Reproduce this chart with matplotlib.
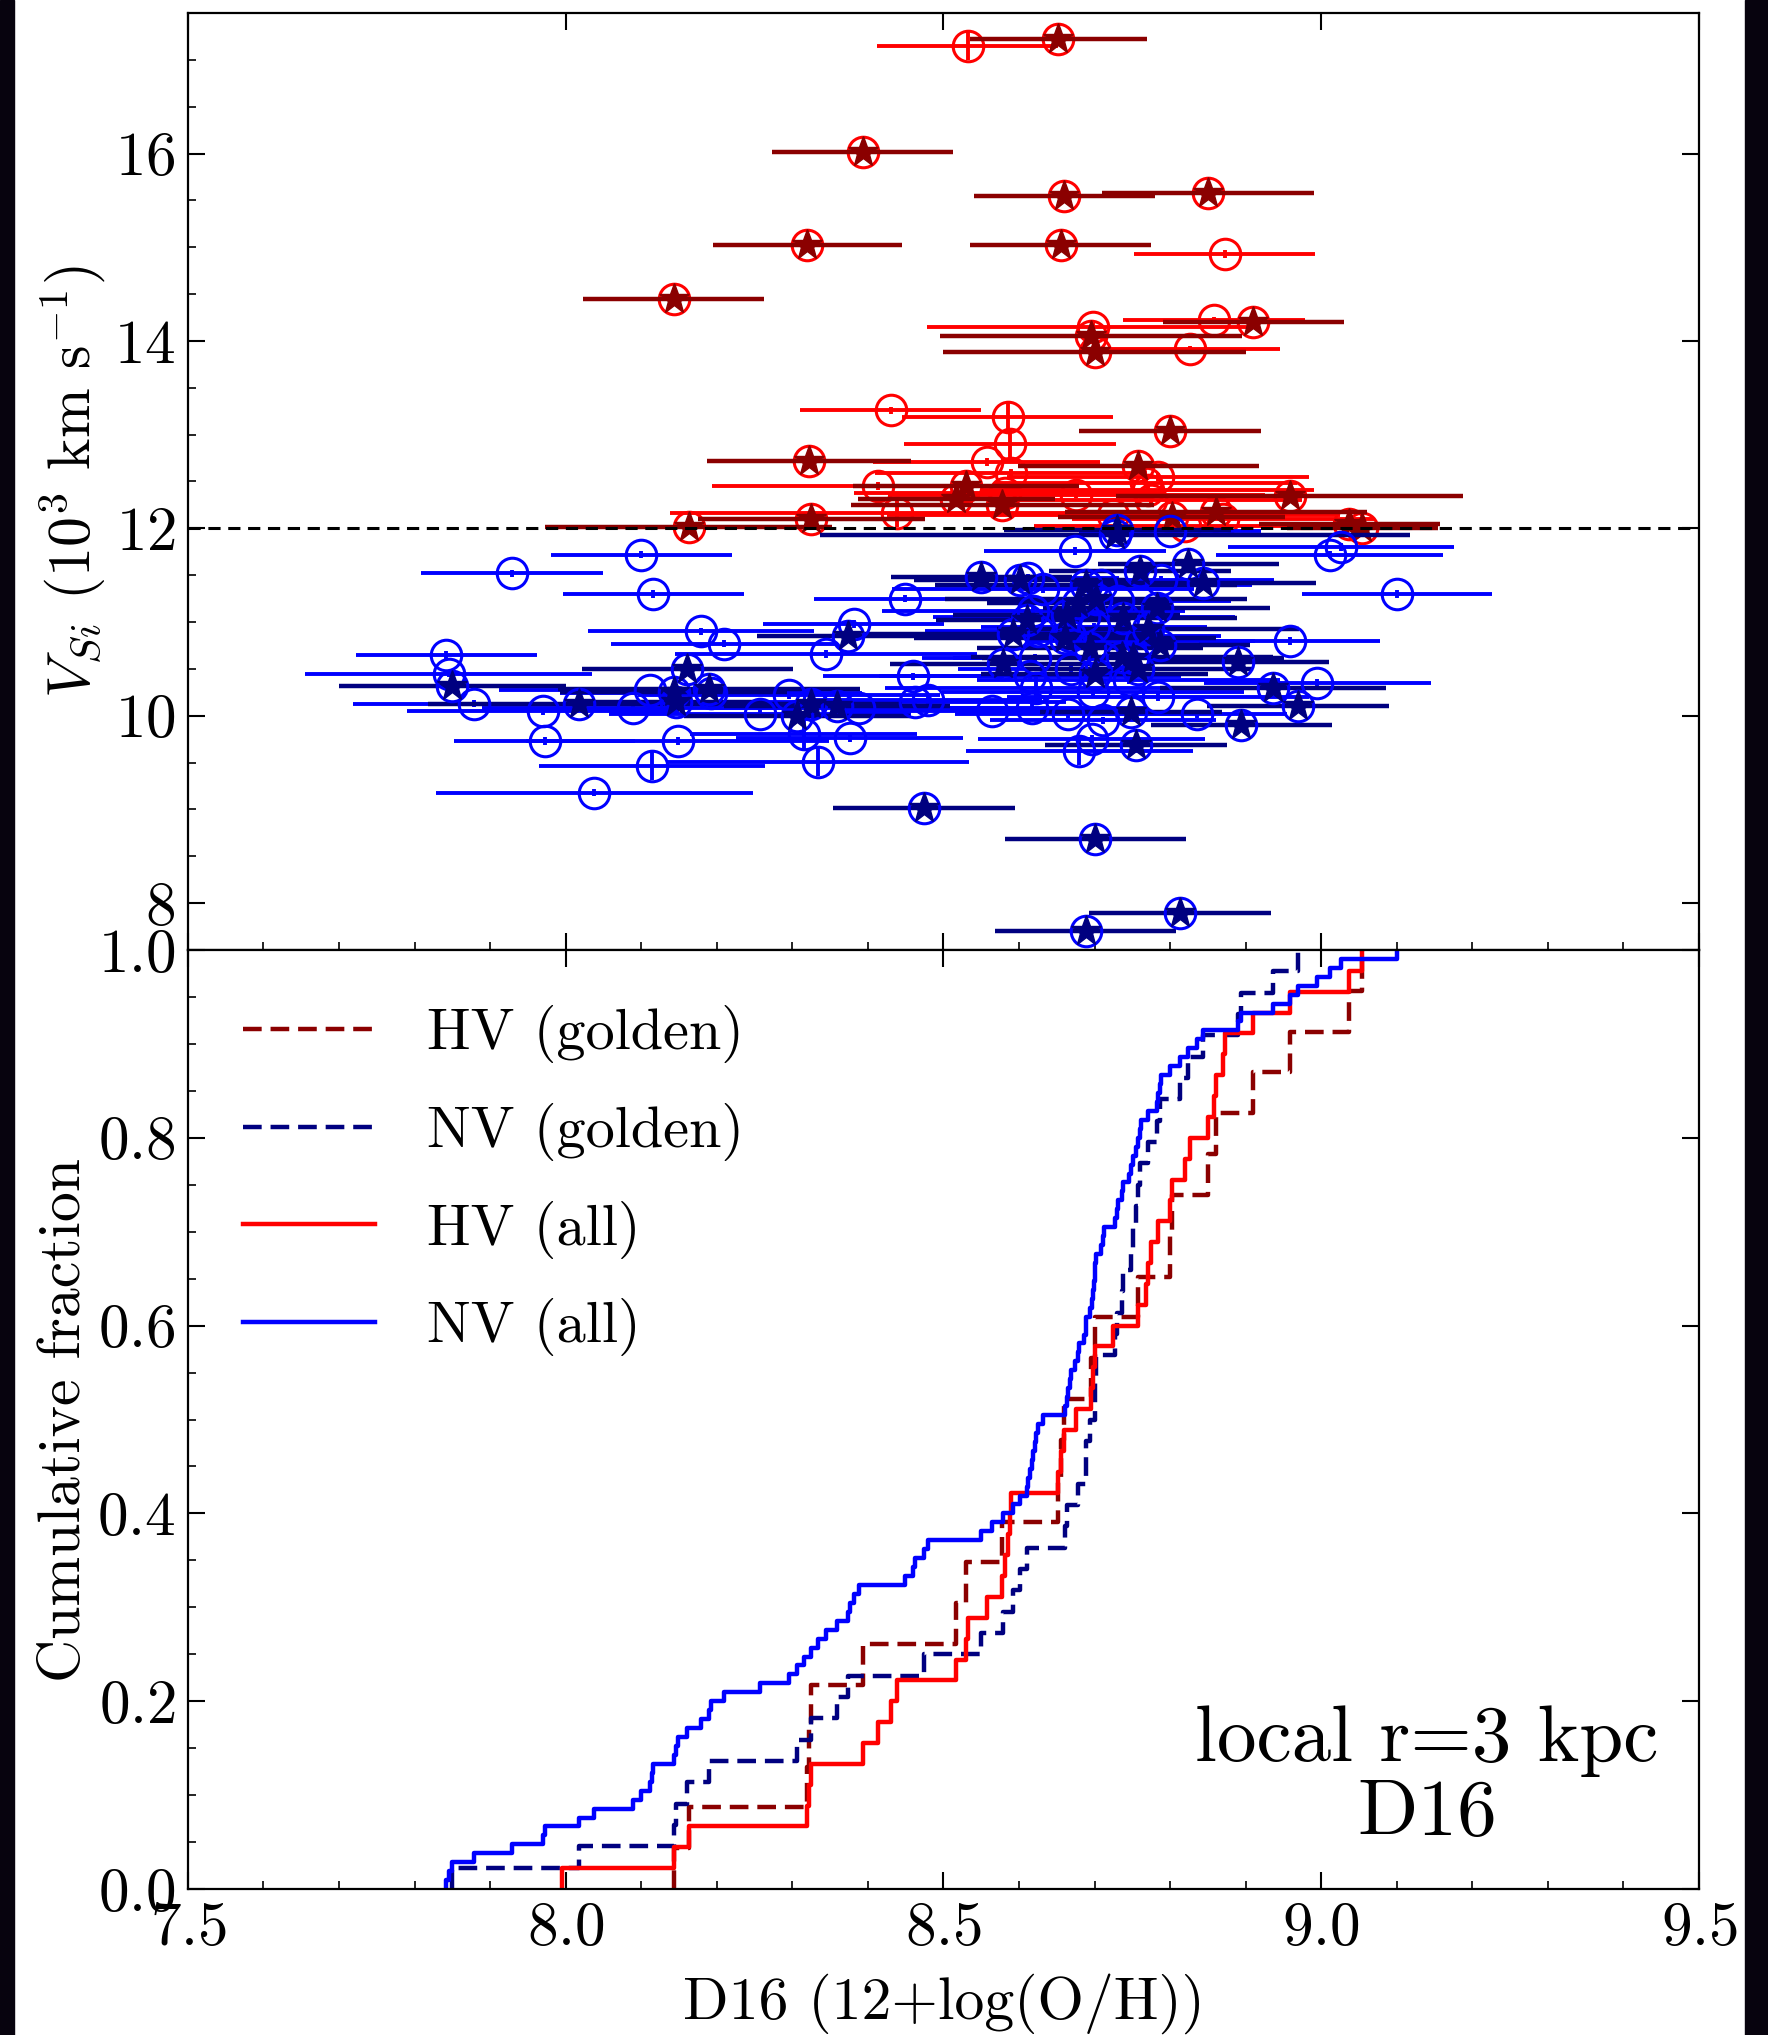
import numpy as np
import matplotlib
matplotlib.use('Agg')
import matplotlib.pyplot as plt
from matplotlib.ticker import MultipleLocator
from matplotlib.patches import Rectangle

plt.rcParams['font.family'] = 'serif'
plt.rcParams['font.serif'] = ['cmr10']
plt.rcParams['mathtext.fontset'] = 'cm'
plt.rcParams['axes.formatter.use_mathtext'] = True
plt.rcParams['axes.unicode_minus'] = False

# ---- data ----
# high-velocity, golden sample (stars)
hv_gold_x = [8.143, 8.163, 8.32, 8.322, 8.325, 8.393, 8.517, 8.53, 8.578, 8.652,
             8.655, 8.66, 8.695, 8.70, 8.758, 8.80, 8.802, 8.85, 8.861, 8.91,
             8.958, 9.037, 9.054]
hv_gold_v = [14.45, 12.01, 15.02, 12.72, 12.10, 16.02, 12.31, 12.45, 12.25, 17.22,
             15.02, 15.55, 14.05, 13.88, 12.67, 13.04, 12.12, 15.58, 12.17, 14.20,
             12.35, 12.05, 12.00]
hv_gold_xerr = [0.12, 0.19, 0.125, 0.135, 0.15, 0.12, 0.13, 0.15, 0.2, 0.117,
                0.12, 0.12, 0.2, 0.2, 0.16, 0.12, 0.15, 0.14, 0.2, 0.12,
                0.23, 0.12, 0.1]

# high-velocity, rest of the full sample (circles)
hv_rest_x = [7.995, 8.413, 8.43, 8.438, 8.532, 8.557, 8.582, 8.585, 8.588, 8.59,
             8.676, 8.698, 8.725, 8.768, 8.771, 8.774, 8.784, 8.82, 8.826, 8.858,
             8.87, 8.872]
hv_rest_v = [18.2, 12.45, 13.26, 12.16, 17.15, 12.71, 12.38, 13.19, 12.90, 12.59,
             12.36, 14.15, 12.14, 12.48, 12.41, 12.30, 12.55, 12.02, 13.91, 14.22,
             12.10, 14.93]
hv_rest_xerr = [0.12, 0.22, 0.12, 0.3, 0.12, 0.15, 0.2, 0.14, 0.14, 0.18,
                0.25, 0.22, 0.3, 0.2, 0.22, 0.2, 0.2, 0.2, 0.12, 0.12,
                0.2, 0.12]
hv_rest_verr = [0.05, 0.04, 0.04, 0.15, 0.15, 0.04, 0.04, 0.16, 0.15, 0.04,
                0.04, 0.04, 0.04, 0.04, 0.05, 0.04, 0.04, 0.04, 0.04, 0.04,
                0.04, 0.04]

# normal-velocity, golden sample (stars)
nv_gold_x = [7.85, 8.018, 8.143, 8.146, 8.161, 8.19, 8.306, 8.325, 8.359, 8.373,
             8.474, 8.55, 8.579, 8.592, 8.601, 8.61, 8.661, 8.663, 8.678, 8.688,
             8.689, 8.694, 8.70, 8.701, 8.702, 8.727, 8.73, 8.736, 8.738, 8.748,
             8.751, 8.755, 8.758, 8.76, 8.771, 8.782, 8.786, 8.813, 8.824, 8.843,
             8.89, 8.894, 8.936, 8.969]
nv_gold_v = [10.32, 10.12, 10.25, 10.15, 10.50, 10.28, 10.00, 10.12, 10.10, 10.85,
             9.02, 11.48, 10.55, 10.87, 11.45, 11.02, 10.83, 11.08, 11.20, 7.70,
             11.40, 10.72, 10.45, 8.68, 11.25, 11.93, 11.98, 10.63, 11.04, 10.04,
             10.62, 9.69, 10.50, 11.54, 10.93, 11.15, 10.75, 7.89, 11.62, 11.42,
             10.57, 9.90, 10.30, 10.10]
nv_gold_xerr = [0.15, 0.2, 0.15, 0.12, 0.14, 0.2, 0.15, 0.12, 0.15, 0.12,
                0.12, 0.12, 0.15, 0.2, 0.14, 0.12, 0.2, 0.15, 0.12, 0.12,
                0.2, 0.15, 0.15, 0.12, 0.2, 0.39, 0.15, 0.2, 0.15, 0.12,
                0.2, 0.12, 0.15, 0.12, 0.2, 0.15, 0.12, 0.12, 0.12, 0.15,
                0.12, 0.12, 0.15, 0.12]

# normal-velocity, rest of the full sample (circles)
nv_rest_x = [7.842, 7.845, 7.878, 7.929, 7.97, 7.972, 8.038, 8.089, 8.10, 8.112,
             8.114, 8.116, 8.148, 8.179, 8.192, 8.21, 8.257, 8.296, 8.315, 8.334,
             8.344, 8.376, 8.381, 8.388, 8.449, 8.46, 8.462, 8.48, 8.564, 8.612,
             8.615, 8.617, 8.619, 8.621, 8.623, 8.625, 8.632, 8.665, 8.667, 8.669,
             8.674, 8.68, 8.686, 8.696, 8.698, 8.699, 8.708, 8.711, 8.713, 8.731,
             8.745, 8.762, 8.784, 8.788, 8.80, 8.835, 8.958, 8.995, 9.011, 9.026,
             9.10]
nv_rest_v = [10.65, 10.45, 10.13, 11.52, 10.05, 9.73, 9.18, 10.08, 11.72, 10.27,
             9.46, 11.30, 9.73, 10.90, 10.24, 10.77, 10.02, 10.22, 9.80, 9.51,
             10.66, 9.76, 10.98, 10.08, 11.25, 10.42, 10.15, 10.17, 10.05, 11.47,
             10.42, 10.08, 11.12, 10.62, 10.30, 10.90, 11.35, 10.02, 10.85, 10.50,
             11.76, 9.62, 11.05, 9.75, 10.25, 10.95, 11.40, 9.95, 10.62, 11.22,
             10.38, 10.80, 10.20, 11.45, 11.97, 10.02, 10.80, 10.35, 11.72, 11.80,
             11.30]
nv_rest_xerr = [0.12, 0.19, 0.16, 0.12, 0.18, 0.12, 0.21, 0.2, 0.12, 0.2,
                0.15, 0.12, 0.2, 0.15, 0.2, 0.15, 0.2, 0.2, 0.15, 0.2,
                0.2, 0.15, 0.12, 0.2, 0.12, 0.12, 0.2, 0.15, 0.2, 0.12,
                0.2, 0.15, 0.2, 0.15, 0.2, 0.15, 0.2, 0.15, 0.2, 0.15,
                0.12, 0.15, 0.2, 0.15, 0.2, 0.15, 0.2, 0.15, 0.2, 0.15,
                0.2, 0.15, 0.2, 0.15, 0.12, 0.12, 0.12, 0.15, 0.15, 0.15,
                0.126]
nv_rest_verr = [0.04, 0.04, 0.04, 0.04, 0.04, 0.04, 0.04, 0.04, 0.04, 0.04,
                0.15, 0.04, 0.04, 0.04, 0.04, 0.04, 0.04, 0.04, 0.15, 0.15,
                0.04, 0.04, 0.04, 0.04, 0.04, 0.04, 0.04, 0.04, 0.04, 0.04,
                0.04, 0.04, 0.04, 0.04, 0.15, 0.04, 0.04, 0.04, 0.04, 0.04,
                0.04, 0.15, 0.04, 0.04, 0.04, 0.04, 0.04, 0.04, 0.04, 0.04,
                0.04, 0.04, 0.04, 0.04, 0.04, 0.04, 0.04, 0.04, 0.04, 0.04,
                0.04]

v_split = 12.0

# full samples = golden + rest
hv_all_x = hv_gold_x + hv_rest_x
hv_all_v = hv_gold_v + hv_rest_v
hv_all_xerr = hv_gold_xerr + hv_rest_xerr
hv_all_verr = [0.04] * len(hv_gold_x) + hv_rest_verr
nv_all_x = nv_gold_x + nv_rest_x
nv_all_v = nv_gold_v + nv_rest_v
nv_all_xerr = nv_gold_xerr + nv_rest_xerr
nv_all_verr = [0.04] * len(nv_gold_x) + nv_rest_verr

c_hv_gold, c_nv_gold = '#8b0000', '#000080'
c_hv_all, c_nv_all = '#ff0000', '#0000ff'

fig = plt.figure(figsize=(17.68, 20.35), dpi=100)
ax1 = fig.add_axes([0.1063, 0.5332, 0.8547, 0.4604])
ax2 = fig.add_axes([0.1063, 0.0717, 0.8547, 0.4615], sharex=ax1)

err_kw = dict(capsize=0, linestyle='none')

# top panel: full samples as open circles, golden ones as stars on top
ax1.errorbar(hv_all_x, hv_all_v, xerr=hv_all_xerr, yerr=hv_all_verr, fmt='o',
             color=c_hv_all, mfc='none', mec=c_hv_all, ms=22, mew=2.2,
             elinewidth=2.8, zorder=2, **err_kw)
ax1.errorbar(hv_gold_x, hv_gold_v, xerr=hv_gold_xerr, fmt='*', color=c_hv_gold,
             ms=23, mec=c_hv_gold, elinewidth=3.2, zorder=2.1, **err_kw)
ax1.errorbar(nv_all_x, nv_all_v, xerr=nv_all_xerr, yerr=nv_all_verr, fmt='o',
             color=c_nv_all, mfc='none', mec=c_nv_all, ms=22, mew=2.2,
             elinewidth=2.8, zorder=2.2, **err_kw)
ax1.errorbar(nv_gold_x, nv_gold_v, xerr=nv_gold_xerr, fmt='*', color=c_nv_gold,
             ms=23, mec=c_nv_gold, elinewidth=3.2, zorder=2.3, **err_kw)
ax1.axhline(v_split, color='k', ls='--', lw=2.2, dashes=(4, 2.5), zorder=5)

ax1.set_ylim(7.5, 17.5)
ax1.yaxis.set_major_locator(MultipleLocator(2))
ax1.yaxis.set_minor_locator(MultipleLocator(0.5))
ax1.set_ylabel(r'$V_{Si}$ ($10^3$ km s$^{-1}$)', fontsize=43)


# bottom panel: cumulative fractions
def cdf(ax, x, **kw):
    xs = np.sort(x)
    n = len(xs)
    frac = np.arange(1, n + 1) / n
    return ax.step(np.r_[xs[0], xs], np.r_[0, frac], where='post', **kw)[0]


dash = (0, (4.2, 2.0))
l1 = cdf(ax2, hv_gold_x, color=c_hv_gold, lw=3.2, ls=dash, label='HV (golden)')
l2 = cdf(ax2, nv_gold_x, color=c_nv_gold, lw=3.2, ls=dash, label='NV (golden)')
l3 = cdf(ax2, hv_all_x, color=c_hv_all, lw=3.2, label='HV (all)')
l4 = cdf(ax2, nv_all_x, color=c_nv_all, lw=3.2, label='NV (all)')

ax2.legend(handles=[l1, l2, l3, l4], loc='upper left', frameon=False, fontsize=42,
           handlelength=2.25, handletextpad=0.9, labelspacing=0.68,
           borderaxespad=0.55)
ax2.text(9.14, 0.118, 'local r=3 kpc\nD16', ha='center', va='center', fontsize=57,
         linespacing=1.05)

ax2.set_xlim(7.5, 9.5)
ax2.set_ylim(0, 1)
ax2.xaxis.set_major_locator(MultipleLocator(0.5))
ax2.xaxis.set_minor_locator(MultipleLocator(0.1))
ax2.yaxis.set_major_locator(MultipleLocator(0.2))
ax2.yaxis.set_minor_locator(MultipleLocator(0.05))
ax2.set_xlabel('D16 (12+log(O/H))', fontsize=43, labelpad=12)
ax2.set_ylabel('Cumulative fraction', fontsize=43)

for ax in (ax1, ax2):
    ax.tick_params(which='both', direction='in', labelsize=44)
    ax.tick_params(which='major', length=12, width=1.5, top=True, right=True, pad=9)
    ax.tick_params(which='minor', length=6, width=1.2, top=False, right=False)
    for s in ax.spines.values():
        s.set_linewidth(1.6)
ax1.tick_params(labelbottom=False)

# dark strips at the picture edges
fig.add_artist(Rectangle((0, 0), 0.008, 1, transform=fig.transFigure,
                         color='#07030e', zorder=10))
fig.add_artist(Rectangle((0.987, 0), 0.013, 1, transform=fig.transFigure,
                         color='#07030e', zorder=10))

fig.savefig('out.png', dpi=100)
